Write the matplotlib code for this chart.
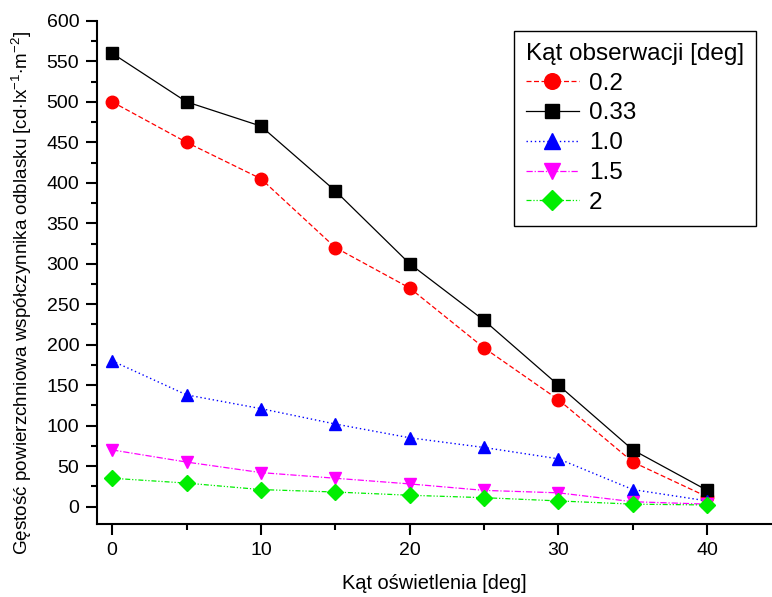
import numpy as np
from matplotlib import pyplot as plt
from matplotlib.ticker import MultipleLocator

plt.rcParams['font.family'] = ['Liberation Sans', 'DejaVu Sans']
plt.rcParams['mathtext.fontset'] = 'custom'
plt.rcParams['mathtext.rm'] = 'Liberation Sans'
plt.rcParams['mathtext.it'] = 'Liberation Sans:italic'

# illumination angle [deg]
angles = [0, 5, 10, 15, 20, 25, 30, 35, 40]

# observation angle series
obs_02 = [500, 450, 405, 320, 270, 196, 132, 55, 12]
obs_033 = [560, 500, 470, 390, 300, 230, 150, 70, 20]
obs_10 = [180, 138, 121, 102, 85, 73, 59, 21, 7]
obs_15 = [70, 55, 42, 35, 28, 20, 17, 6, 3]
obs_2 = [35, 29, 21, 18, 14, 11, 7, 3, 2]

labels = ['0.2', '0.33', '1.0', '1.5', '2']

fig = plt.figure(figsize=(7.72, 5.97), dpi=100)
ax = fig.add_axes([0.126, 0.1223, 0.873, 0.8427])

ax.plot(angles, obs_02, color='red', ls=(0, (4, 2)), lw=0.9,
        marker='o', ms=9, mec='red', label=labels[0])
ax.plot(angles, obs_033, color='black', ls='-', lw=0.9,
        marker='s', ms=8, label=labels[1])
ax.plot(angles, obs_10, color='blue', ls=(0, (1, 2)), lw=1.0,
        marker='^', ms=9, label=labels[2])
ax.plot(angles, obs_15, color='magenta', ls=(0, (5, 1.5, 1, 1.5)), lw=0.9,
        marker='v', ms=9, label=labels[3])
ax.plot(angles, obs_2, color='#00ee00', ls=(0, (4, 1.5, 1, 1.5, 1, 1.5)), lw=0.9,
        marker='D', ms=8, label=labels[4])

ax.set_xlim(-1.0, 44.3)
ax.set_ylim(-21.5, 600)
ax.xaxis.set_major_locator(MultipleLocator(10))
ax.xaxis.set_minor_locator(MultipleLocator(5))
ax.yaxis.set_major_locator(MultipleLocator(50))
ax.yaxis.set_minor_locator(MultipleLocator(25))

ax.spines['top'].set_visible(False)
ax.spines['right'].set_visible(False)
ax.spines['left'].set_linewidth(1.5)
ax.spines['bottom'].set_linewidth(1.5)

ax.tick_params(which='major', direction='out', length=8, width=1.5, labelsize=14, pad=5)
ax.tick_params(which='minor', direction='out', length=4, width=1.5)

ax.set_xlabel('Kąt oświetlenia [deg]', fontsize=14.4, labelpad=11)
ax.set_ylabel(r'Gęstość powierzchniowa współczynnika odblasku [cd$\cdot$lx$^{-1}$$\cdot$m$^{-2}$]',
              fontsize=13.6)
ax.yaxis.set_label_coords(-0.094, 0.459)

leg = ax.legend(title='Kąt obserwacji [deg]', loc='upper right',
                bbox_to_anchor=(756 / 772, 1 - 30.7 / 597),
                bbox_transform=fig.transFigure, borderaxespad=0,
                fontsize=17.5, title_fontsize=17.5,
                fancybox=False, edgecolor='black', framealpha=1,
                handlelength=2.2, borderpad=0.5, labelspacing=0.32,
                handletextpad=0.4, markerscale=1.25)
leg.get_frame().set_linewidth(1.0)
leg._legend_box.align = 'left'

fig.savefig('out.png', dpi=100)
